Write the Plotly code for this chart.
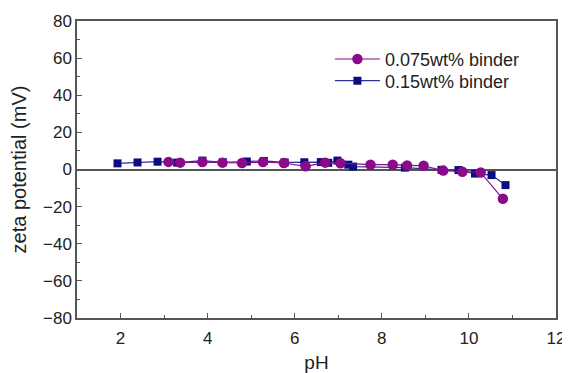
import plotly.graph_objects as go

# Data
ph_075 = [3.10, 3.37, 3.88, 4.34, 4.79, 5.27, 5.75, 6.25, 6.70, 7.05, 7.74, 8.25, 8.58, 8.96, 9.41, 9.85, 10.27, 10.78]
zeta_075 = [4.1, 3.7, 4.0, 3.7, 3.5, 4.0, 3.5, 1.7, 3.7, 3.4, 2.6, 2.6, 2.2, 2.0, -0.6, -1.2, -1.6, -15.8]

ph_015 = [1.93, 2.39, 2.85, 3.30, 3.88, 4.35, 4.90, 5.29, 5.77, 6.22, 6.60, 6.77, 6.98, 7.23, 7.34, 8.53, 9.37, 9.76, 10.14, 10.52, 10.84]
zeta_015 = [3.3, 3.8, 4.2, 3.7, 4.8, 3.9, 4.3, 4.6, 3.8, 3.9, 4.0, 3.6, 4.8, 2.6, 1.6, 1.0, -0.2, -0.3, -2.2, -3.0, -8.4]

name_075 = "0.075wt% binder"
name_015 = "0.15wt% binder"

PURPLE = "#8a0a8a"
NAVY = "#0c0c82"
AXIS = "#555555"
FONT = "Liberation Sans, Arial, sans-serif"

fig = go.Figure()
fig.add_trace(go.Scatter(
    x=ph_015, y=zeta_015, name=name_015, mode="lines+markers",
    line=dict(color="#3030a0", width=1.2),
    marker=dict(symbol="square", size=8, color=NAVY),
    legend="legend2",
))
fig.add_trace(go.Scatter(
    x=ph_075, y=zeta_075, name=name_075, mode="lines+markers",
    line=dict(color=PURPLE, width=1.2),
    marker=dict(symbol="circle", size=10.5, color=PURPLE),
    legend="legend",
))

legend_style = dict(
    xanchor="left", yanchor="middle",
    bgcolor="rgba(0,0,0,0)", font=dict(size=18, family=FONT, color="#222222"),
    itemwidth=45,
)

# The page adds an 8px body margin, so the figure is sized to fit the 570x373 window.
fig.update_layout(
    width=562, height=365,
    margin=dict(l=69, r=14, t=13, b=55, autoexpand=False),
    paper_bgcolor="white", plot_bgcolor="white",
    font=dict(family=FONT, size=17, color="#222222"),
    showlegend=True,
    legend=dict(x=0.528, y=0.871, **legend_style),
    legend2=dict(x=0.528, y=0.798, **legend_style),
)
fig.update_xaxes(
    range=[1, 12], dtick=2, tick0=0, automargin=False,
    ticks="inside", ticklen=5, tickwidth=1.2, tickcolor=AXIS,
    minor=dict(ticks="inside", ticklen=3, dtick=1, tickcolor=AXIS, showgrid=False),
    showline=True, linecolor=AXIS, linewidth=1.5, mirror=True,
    showgrid=False, zeroline=False,
    ticklabelstandoff=4,
    title=dict(text="pH", font=dict(size=19, family=FONT), standoff=25),
)
fig.update_yaxes(
    range=[-80, 80], dtick=20, automargin=False,
    ticks="inside", ticklen=5, tickwidth=1.2, tickcolor=AXIS,
    minor=dict(ticks="inside", ticklen=3, dtick=10, tickcolor=AXIS, showgrid=False),
    showline=True, linecolor=AXIS, linewidth=1.5, mirror=True,
    showgrid=False, zeroline=True, zerolinecolor=AXIS, zerolinewidth=2,
    title=dict(text="zeta potential (mV)", font=dict(size=20, family=FONT), standoff=12),
)

fig.write_html("out.html")
